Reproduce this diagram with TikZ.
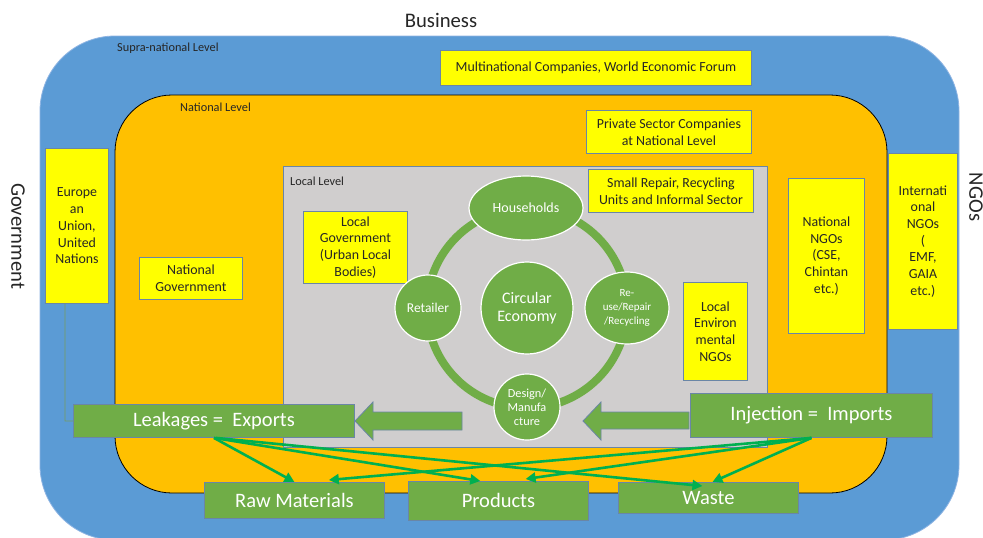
\documentclass[tikz,border=0pt]{standalone}
\usepackage{fontspec}
\setmainfont{Carlito}
\usetikzlibrary{arrows.meta,calc,shapes.geometric}
\definecolor{bluec}{HTML}{5B9BD5}
\definecolor{bluel}{HTML}{8EB4E3}
\definecolor{orangec}{HTML}{FFC000}
\definecolor{grayc}{HTML}{D0CECE}
\definecolor{yellowc}{HTML}{FFFF00}
\definecolor{greenc}{HTML}{70AD47}
\definecolor{arrowc}{HTML}{00B050}
\definecolor{boxline}{HTML}{6A86A6}
\definecolor{txt}{HTML}{262626}
\begin{document}
\begin{tikzpicture}[x=1pt,y=-1pt,
  ybox/.style={draw=boxline, fill=yellowc, line width=0.9pt, inner sep=0pt, align=center,
    text=txt, font=\fontsize{13.9}{16.7}\selectfont, anchor=north west},
  gbox/.style={draw=boxline, fill=greenc, line width=0.9pt, inner sep=0pt, text=white,
    font=\fontsize{20.5}{22}\selectfont, anchor=north west},
  ccirc/.style={circle, fill=greenc, draw=white, line width=1.2pt, text=white, align=center, inner sep=0pt},
  lvl/.style={anchor=west, inner sep=0pt, text=txt, font=\fontsize{12.3}{14}\selectfont},
  big/.style={inner sep=0pt, text=txt, font=\fontsize{20.7}{24}\selectfont},
  flow/.style={draw=arrowc, line width=2.6pt, -{Triangle[length=10pt,width=10pt]}},
  blockarrow/.style={fill=greenc, draw=boxline, line width=0.8pt}
]
\useasboundingbox (0,0) rectangle (983,538);
\fill[white] (0,0) rectangle (983,538);

% level regions
\draw[fill=bluec, draw=bluel, line width=0.8pt, rounded corners=75pt] (40,36) rectangle (959,540);
\draw[fill=orangec, draw=black, line width=0.8pt, rounded corners=57pt] (115,95) rectangle (887,493);
\draw[fill=grayc, draw=boxline, line width=0.8pt] (283,166) rectangle (767,447);

% outer labels
\node[big] (business) at (441,20) {Business};
\node[big, rotate=-90] (government) at (18,236) {Government};
\node[big, rotate=-90] (ngos) at (976,197) {NGOs};

\node[lvl] (supra) at (117,48) {Supra-national Level};
\node[lvl] (national) at (180,107) {National Level};
\node[lvl] (local) at (290,181) {Local Level};

% yellow boxes
\node[ybox, minimum width=311, minimum height=35] (mnc) at (440,50) {Multinational Companies, World Economic Forum};
\node[ybox, minimum width=165, minimum height=43] (psc) at (586,110) {Private Sector Companies\\at National Level};
\node[ybox, minimum width=165, minimum height=43] (srr) at (588,169) {Small Repair, Recycling\\Units and Informal Sector};
\node[ybox, minimum width=104, minimum height=72] (lgov) at (303,211) {Local\\Government\\(Urban Local\\Bodies)};
\node[ybox, minimum width=64, minimum height=98] (lngo) at (683,282) {Local\\Environ\\mental\\NGOs};
\node[ybox, minimum width=76, minimum height=155] (nngo) at (788,178) {National\\NGOs\\(CSE,\\Chintan\\etc.)};
\node[ybox, minimum width=69, minimum height=176] (ingo) at (888,153) {Internati\\onal\\NGOs\\(\\EMF,\\GAIA\\etc.)};
\node[ybox, minimum width=63, minimum height=155] (eu) at (45,148) {Europe\\an\\Union,\\United\\Nations};
\node[ybox, minimum width=103, minimum height=42] (ngov) at (139,257) {National\\Government};

% circular economy ring
\coordinate (ringc) at (527,308);
\draw[greenc, line width=8pt] (ringc) circle[radius=100pt];
\node[ccirc, minimum size=92pt, font=\fontsize{16}{18}\selectfont] (ce) at (ringc) {Circular\\Economy};
\node[ellipse, fill=greenc, draw=white, line width=1.2pt, text=white, inner sep=0pt,
  minimum width=114pt, minimum height=64pt, font=\fontsize{14}{16}\selectfont] (hh) at (526,208) {Households};
\node[ccirc, minimum size=66pt, font=\fontsize{13.5}{15}\selectfont] (ret) at (428,308) {Retailer};
\node[ellipse, fill=greenc, draw=white, line width=1.2pt, text=white, inner sep=0pt, align=center,
  minimum width=84pt, minimum height=72pt, font=\fontsize{11}{14}\selectfont] (reuse) at (627,308) {Re-\\use/Repair\\/Recycling};
\node[ccirc, minimum size=66pt, font=\fontsize{12.3}{14}\selectfont] (design) at (527,407) {Design/\\Manufa\\cture};

% green boxes
\node[gbox, minimum width=281, minimum height=33] (leak) at (73,404) {Leakages =\ \ Exports};
\node[gbox, minimum width=242, minimum height=44] (inj) at (690,393) {Injection =\ \ Imports};
\node[gbox, minimum width=180, minimum height=36] (raw) at (204,482) {Raw Materials};
\node[gbox, minimum width=180, minimum height=39] (prod) at (408,481) {Products};
\node[gbox, minimum width=180, minimum height=31] (waste) at (618,482) {Waste};

% block arrows
\draw[blockarrow] (462,412) -- (373,412) -- (373,402) -- (355,421) -- (373,440) -- (373,430) -- (462,430) -- cycle;
\draw[blockarrow] (689,412) -- (601,412) -- (601,402) -- (583,421) -- (601,440) -- (601,429) -- (689,429) -- cycle;

% thin connector from EU box
\coordinate (eubend) at (65,421);
\draw[draw=greenc!60!gray, line width=0.6pt] (eu.south -| eubend) -- (eubend) -- (leak.west);

% flows
\draw[flow] (leak.south) -- (raw.north);
\draw[flow] (leak.south) -- ($(prod.north west)!0.4!(prod.north east)$);
\draw[flow] ($(leak.south)+(2,0)$) -- ($(waste.north)+(-6,4)$);
\draw[flow] (inj.south) -- ($(waste.north)+(4,0)$);
\draw[flow] (inj.south) -- ($(prod.north west)!0.65!(prod.north east)+(0,-2)$);
\draw[flow] (inj.south) -- ($(raw.north west)!0.69!(raw.north east)+(0,-2)$);
\end{tikzpicture}
\end{document}
